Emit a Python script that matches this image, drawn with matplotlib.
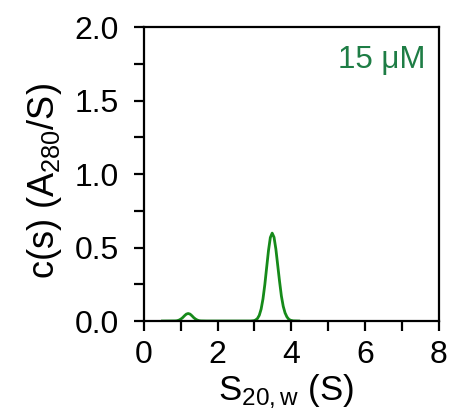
"""c(s) sedimentation distribution at 15 uM."""

import matplotlib

matplotlib.use("Agg")
import matplotlib.pyplot as plt
from matplotlib.ticker import MultipleLocator


# sedimentation coefficient (S) and c(s)
S_VALUES = [
    0.5, 0.85, 0.9, 0.95, 1.0, 1.05, 1.1, 1.15, 1.2, 1.25, 1.3, 1.35, 1.4,
    1.45, 1.5, 1.55, 1.7,
    2.9, 2.98, 3.03, 3.08, 3.13, 3.18, 3.23, 3.28, 3.33, 3.38, 3.43, 3.48,
    3.53, 3.58, 3.63, 3.68, 3.73, 3.78, 3.83, 3.88, 3.93, 3.98, 4.05, 4.2,
]
CS_VALUES = [
    0.0, 0.0007, 0.002, 0.006, 0.013, 0.023, 0.036, 0.047, 0.051, 0.047,
    0.036, 0.023, 0.013, 0.006, 0.002, 0.0007, 0.0,
    0.0, 0.002, 0.007, 0.017, 0.039, 0.081, 0.15, 0.247, 0.364, 0.48, 0.568,
    0.598, 0.57, 0.49, 0.38, 0.27, 0.17, 0.10, 0.055, 0.028, 0.012, 0.005,
    0.001, 0.0,
]
CONCENTRATION = "15 \u03bcM"

CURVE_COLOR = "#168a1a"
TEXT_COLOR = "#1e7d45"


def main() -> None:
    plt.rcParams["font.family"] = ["Liberation Sans", "DejaVu Sans"]
    plt.rcParams["mathtext.fontset"] = "custom"
    plt.rcParams["mathtext.rm"] = "Liberation Sans"
    plt.rcParams["mathtext.it"] = "Liberation Sans"

    fig = plt.figure(figsize=(4.49, 4.17), dpi=100)
    ax = fig.add_axes([0.3207, 0.2302, 0.6563, 0.7049])

    ax.plot(S_VALUES, CS_VALUES, color=CURVE_COLOR, lw=2.0, zorder=1)

    ax.set_xlim(0, 8)
    ax.set_ylim(0, 2.0)
    ax.xaxis.set_major_locator(MultipleLocator(2))
    ax.xaxis.set_minor_locator(MultipleLocator(1))
    ax.yaxis.set_major_locator(MultipleLocator(0.5))
    ax.yaxis.set_minor_locator(MultipleLocator(0.25))
    ax.yaxis.set_major_formatter(lambda v, _: f"{v:.1f}")

    for spine in ax.spines.values():
        spine.set_linewidth(1.6)
        spine.set_zorder(3)
    ax.tick_params(which="both", direction="out", length=7, width=1.6,
                   top=False, right=False)
    ax.tick_params(which="major", labelsize=23)
    ax.tick_params(axis="x", which="major", pad=7)
    ax.tick_params(axis="y", which="major", pad=11)

    ax.set_xlabel("S$_{20,w}$ (S)", fontsize=25, labelpad=2)
    ax.set_ylabel("c(s) (A$_{280}$/S)", fontsize=26, labelpad=8)
    ax.xaxis.label.set_x(0.48)
    ax.yaxis.label.set_y(0.475)

    ax.text(0.955, 0.86, CONCENTRATION, transform=ax.transAxes,
            ha="right", va="baseline", fontsize=22.5, color=TEXT_COLOR)

    fig.savefig("out.png", dpi=100)
    plt.close(fig)


if __name__ == "__main__":
    main()
